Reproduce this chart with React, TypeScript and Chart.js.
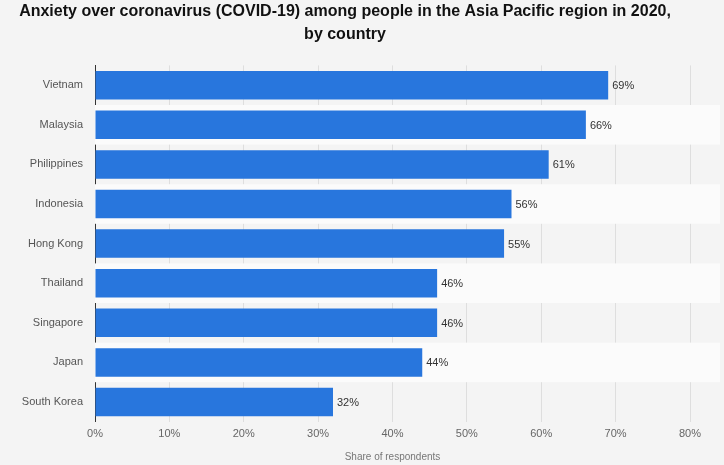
import React, { useEffect, useRef } from "react";
import Chart from "chart.js/auto";

const categories = ["Vietnam", "Malaysia", "Philippines", "Indonesia", "Hong Kong", "Thailand", "Singapore", "Japan", "South Korea"];
const values = [69, 66, 61, 56, 55, 46, 46, 44, 32];
const titleLines = ["Anxiety over coronavirus (COVID-19) among people in the Asia Pacific region in 2020,", "by country"];

const bandsAndLabels = {
  id: "bandsAndLabels",
  beforeDatasetsDraw(chart: any) {
    const { ctx, chartArea, scales } = chart;
    const y = scales.y;
    ctx.save();
    categories.forEach((_, i) => {
      if (i % 2 === 1) {
        const c = y.getPixelForValue(i);
        const h = (y.getPixelForValue(1) - y.getPixelForValue(0));
        ctx.fillStyle = "#fbfbfb";
        ctx.fillRect(chartArea.left, c - h / 2, chartArea.right - chartArea.left + 30, h);
      }
    });
    ctx.restore();
  },
  afterDatasetsDraw(chart: any) {
    const { ctx } = chart;
    const meta = chart.getDatasetMeta(0);
    ctx.save();
    ctx.fillStyle = "#333";
    ctx.font = "11px 'Liberation Sans', Arial, sans-serif";
    ctx.textBaseline = "middle";
    meta.data.forEach((bar: any, i: number) => {
      ctx.fillText(values[i] + "%", bar.x + 4, bar.y + 1);
    });
    ctx.restore();
  },
};

export default function App() {
  const ref = useRef<HTMLCanvasElement>(null);
  useEffect(() => {
    document.body.style.margin = "0";
    document.body.style.background = "#f4f4f4";
    const chart = new Chart(ref.current!, {
      type: "bar",
      data: {
        labels: categories,
        datasets: [{ data: values, backgroundColor: "#2876dd", categoryPercentage: 0.72, barPercentage: 1 }],
      },
      plugins: [bandsAndLabels],
      options: {
        indexAxis: "y",
        animation: false,
        responsive: false,
        layout: { padding: { left: 0, right: 34, top: 0, bottom: 2 } },
        plugins: {
          legend: { display: false },
          tooltip: { enabled: false },
          title: {
            display: true,
            text: titleLines,
            color: "#111",
            font: { size: 16, weight: "bold", family: "'Liberation Sans', Arial, sans-serif", lineHeight: 1.45 },
            padding: { top: 0, bottom: 19 },
          },
        },
        scales: {
          x: {
            min: 0,
            max: 80,
            ticks: { stepSize: 10, callback: (v: any) => v + "%", color: "#666", font: { size: 11, family: "'Liberation Sans', Arial, sans-serif" }, padding: 6 },
            grid: { color: "#dedede", drawTicks: false },
            border: { display: false },
            title: { display: true, text: "Share of respondents", color: "#777", font: { size: 10, family: "'Liberation Sans', Arial, sans-serif" }, padding: { top: 4, bottom: 0 } },
          },
          y: {
            afterFit: (s: any) => { s.width = 95; },
            ticks: { color: "#555", font: { size: 11, family: "'Liberation Sans', Arial, sans-serif" }, padding: 12 },
            grid: { display: false, drawTicks: false },
            border: { display: true, color: "#333", width: 1 },
          },
        },
      },
    });
    return () => chart.destroy();
  }, []);
  return <canvas ref={ref} width={724} height={465} style={{ display: "block" }} />;
}
